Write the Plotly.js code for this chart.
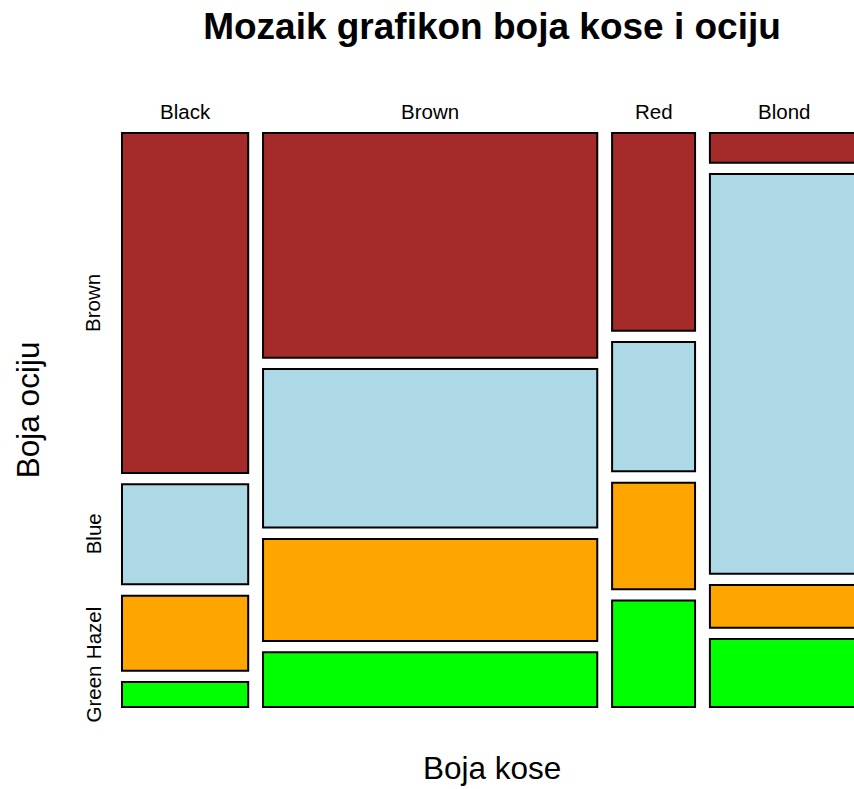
<!DOCTYPE html>
<html>
<head>
<meta charset="utf-8">
<script src="https://cdn.plot.ly/plotly-3.0.1.min.js"></script>
<style>html,body{margin:0;padding:0;background:#fff;}#chart{width:854px;height:789px;}</style>
</head>
<body>
<div id="chart"></div>
<script>
// Hair colour categories (columns) and eye colour categories (rows, top to bottom)
const hair = ['Black', 'Brown', 'Red', 'Blond'];
const eye = ['Brown', 'Blue', 'Hazel', 'Green'];
// Counts per hair colour for each eye colour
const brownEye = [68, 119, 26, 7];
const blueEye  = [20, 84, 17, 94];
const hazelEye = [15, 54, 14, 10];
const greenEye = [5, 29, 14, 16];
const eyeColors = ['#A52A2A', '#ADD8E6', '#FFA500', '#00FF00'];

const series = [brownEye, blueEye, hazelEye, greenEye];
const gapX = 12.7;     // gap between columns, in count units
const gapY = 0.021;    // gap between tiles, in proportion units

const totals = hair.map((h, j) => series.reduce((s, arr) => s + arr[j], 0));
const lefts = [];
let acc = 0;
totals.forEach(t => { lefts.push(acc); acc += t + gapX; });
const centers = totals.map((t, j) => lefts[j] + t / 2);

const traces = [];
const tileCenters = []; // [eyeIndex][hairIndex]
series.forEach((arr, i) => {
  const props = arr.map((v, j) => v / totals[j]);
  const bases = arr.map((v, j) => {
    let b = 0;
    for (let k = i + 1; k < series.length; k++) b += series[k][j] / totals[j] + gapY;
    return b;
  });
  tileCenters.push(props.map((p, j) => bases[j] + p / 2));
  traces.push({
    type: 'bar',
    x: centers,
    y: props,
    base: bases,
    width: totals,
    name: eye[i],
    marker: {color: eyeColors[i], line: {color: '#000', width: 2}},
    hoverinfo: 'skip',
    showlegend: false
  });
});

const font = 'Liberation Sans, Arial, Helvetica, sans-serif';
const annotations = [];
hair.forEach((h, j) => {
  annotations.push({
    text: h, xref: 'x', x: centers[j], yref: 'paper', y: 1, yshift: 20,
    xanchor: 'center', yanchor: 'middle', showarrow: false,
    font: {family: font, size: 20.5, color: '#000'}
  });
});
eye.forEach((e, i) => {
  annotations.push({
    text: e, xref: 'paper', x: 0, xshift: -27, yref: 'y', y: tileCenters[i][0],
    xanchor: 'center', yanchor: 'middle', textangle: -90, showarrow: false,
    font: {family: font, size: 20.5, color: '#000'}
  });
});
annotations.push({
  text: 'Boja kose', xref: 'paper', x: 0.507, yref: 'paper', y: 0, yshift: -59,
  xanchor: 'center', yanchor: 'middle', showarrow: false,
  font: {family: font, size: 31.5, color: '#000'}
});
annotations.push({
  text: 'Boja ociju', xref: 'paper', x: 0, xshift: -92, yref: 'paper', y: 0.517,
  xanchor: 'center', yanchor: 'middle', textangle: -90, showarrow: false,
  font: {family: font, size: 31.5, color: '#000'}
});

const layout = {
  width: 854, height: 789,
  margin: {l: 120, r: 0, t: 131, b: 80},
  paper_bgcolor: '#fff', plot_bgcolor: '#fff',
  barmode: 'overlay',
  title: {
    text: 'Mozaik grafikon boja kose i ociju',
    xref: 'container', x: 492 / 854, xanchor: 'center',
    yref: 'container', y: 1 - 26 / 789, yanchor: 'middle',
    font: {family: font, size: 37, color: '#000', weight: 'bold'}
  },
  xaxis: {range: [-1.7, 626.4], visible: false, fixedrange: true},
  yaxis: {range: [-0.0037, 1.0667], visible: false, fixedrange: true},
  annotations: annotations,
  showlegend: false
};

Plotly.newPlot('chart', traces, layout, {displayModeBar: false, staticPlot: true});
</script>
</body>
</html>
